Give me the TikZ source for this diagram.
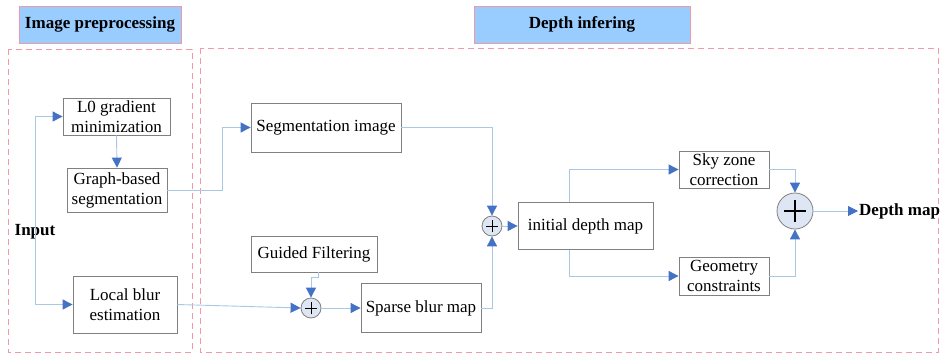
\documentclass[tikz,border=0pt]{standalone}
\usepackage{fontspec}
\setmainfont{Liberation Serif}
\usetikzlibrary{arrows.meta}
\definecolor{conn}{HTML}{A8C8E4}
\definecolor{tipblue}{HTML}{4472C4}
\definecolor{boxgray}{HTML}{808080}
\definecolor{titlefill}{HTML}{99CCFF}
\definecolor{pinkline}{HTML}{EE9AA8}
\definecolor{sumfill}{HTML}{DDE6F2}
\begin{document}
\begin{tikzpicture}[x=1pt,y=-1pt,
  font=\fontsize{17}{20}\selectfont,
  box/.style={draw=boxgray,line width=0.8pt,fill=white,align=center,inner sep=2pt},
  title/.style={draw=pinkline,fill=titlefill,line width=0.9pt,font=\fontsize{17}{20}\selectfont\bfseries,minimum height=37pt},
  frame/.style={draw=pinkline,line width=0.9pt,dash pattern=on 6pt off 4pt},
  conline/.style={draw=conn,line width=0.9pt},
  arr/.style={conline,-{Triangle[length=10pt,width=10pt,color=tipblue]}},
  sumnode/.style={circle,draw=boxgray,fill=sumfill,line width=0.8pt,minimum size=#1,inner sep=0pt},
  plusmark/.style={path picture={
     \draw[black,line width=0.6pt] ([xshift=-6pt]path picture bounding box.center) -- ([xshift=6pt]path picture bounding box.center);
     \draw[black,line width=0.6pt] ([yshift=-6pt]path picture bounding box.center) -- ([yshift=6pt]path picture bounding box.center);}},
  bigplus/.style={path picture={
     \draw[black,line width=1.4pt] ([xshift=-11pt]path picture bounding box.center) -- ([xshift=11pt]path picture bounding box.center);
     \draw[black,line width=1.4pt] ([yshift=-11pt]path picture bounding box.center) -- ([yshift=11pt]path picture bounding box.center);}}
]
\useasboundingbox (0,0) rectangle (940,354);
% frames
\draw[frame] (8,49) rectangle (192,352);
\draw[frame] (200,48) rectangle (938,352);
% titles
\node[title,minimum width=162pt] (t1) at (100,24.5) {Image preprocessing};
\node[title,minimum width=216pt] (t2) at (582,24.5) {Depth infering};
% boxes
\node[box,minimum width=107pt,minimum height=37pt] (L0) at (116.5,116.5) {L0 gradient\\minimization};
\node[box,minimum width=100pt,minimum height=44pt] (graph) at (117,190) {Graph-based\\segmentation};
\node[box,minimum width=104pt,minimum height=57pt] (local) at (125,304.5) {Local blur\\estimation};
\node[box,minimum width=150pt,minimum height=49pt] (seg) at (326,127.5) {Segmentation image};
\node[box,minimum width=126pt,minimum height=36pt] (guided) at (314,254) {Guided Filtering};
\node[box,minimum width=120pt,minimum height=49pt] (sparse) at (421,308) {Sparse blur map};
\node[box,minimum width=135pt,minimum height=47pt] (init) at (585.5,226) {initial depth map};
\node[box,minimum width=90pt,minimum height=37pt] (sky) at (724,169.5) {Sky zone\\correction};
\node[box,minimum width=90pt,minimum height=38pt] (geom) at (724,276) {Geometry\\constraints};
% sums
\node[sumnode=20pt,plusmark] (sum1) at (311,308) {};
\node[sumnode=20pt,plusmark] (sum2) at (492,226) {};
\node[sumnode=36pt,bigplus] (big) at (795,211) {};
% texts
\node[font=\fontsize{17}{20}\selectfont\bfseries] (input) at (35,232) {Input};
\node[font=\fontsize{17}{20}\selectfont\bfseries,anchor=west,inner sep=1pt] (depth) at (858,211) {Depth map};
% input connectors
\coordinate (inA) at (35,116.5);
\coordinate (inB) at (35,304.5);
\draw[conline] (inA) -- (inB);
\draw[arr] (inA) -- (L0.west);
\draw[arr] (inB) -- (local.west);
% preprocessing
\draw[arr] (L0.south) -- (graph.north);
\draw[arr] (graph.east) -- ++(55,0) |- (seg.west);
\draw[arr] (local.east) -- (sum1.west);
\draw[arr] ([xshift=4pt]guided.south) -- ++(0,5) -| (sum1.north);
\draw[arr] (sum1.east) -- (sparse.west);
\draw[arr] (sparse.east) -| (sum2.south);
\draw[arr] (seg.east) -| (sum2.north);
\draw[arr] (sum2.east) -- (init.west);
\draw[arr] ([xshift=-16.5pt]init.north) |- (sky.west);
\draw[arr] ([xshift=-16.5pt]init.south) |- (geom.west);
\draw[arr] (sky.east) -| (big.north);
\draw[arr] (geom.east) -| (big.south);
\draw[arr] (big.east) -- (depth.west);
\end{tikzpicture}
\end{document}
